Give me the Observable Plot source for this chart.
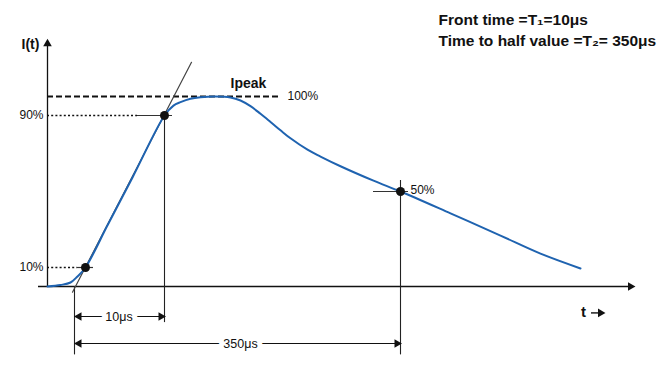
<!DOCTYPE html>
<html>
<head>
<meta charset="utf-8">
<script src="https://cdn.jsdelivr.net/npm/d3@7"></script>
<script src="https://cdn.jsdelivr.net/npm/@observablehq/plot@0.6"></script>
<style>
  html, body { margin: 0; padding: 0; background: #fff; }
  #chart svg { display: block; }
</style>
</head>
<body>
<div id="chart"></div>
<script>
// Schematic time units (t) and current level in % of peak
const curveT   = [0, 13, 23, 30, 38, 60, 85, 117, 126, 133, 143, 153, 168, 183, 193, 203, 213, 223, 233, 243, 260, 273, 293, 326, 353, 403, 453, 493, 533];
const curvePct = [0, 0.8, 2.1, 5.3, 10, 32.2, 57.4, 90, 95.2, 97.0, 98.8, 99.6, 100, 99.5, 97.9, 94.9, 90.9, 86.6, 82.2, 78.0, 72.0, 68.4, 63.3, 55.7, 50, 38.5, 26.8, 17.3, 9.5];

// marked points on the waveform
const markT     = [38, 117, 353];
const markPct   = [10, 90, 50];
const markLabel = ["10%", "90%", "50%"];

// front tangent (through 10% and 90% points), virtual origin
const tangentT   = [25, 144];
const tangentPct = [-3, 118];
const originT    = 27;

// peak
const peakPct   = 100;
const peakEndT  = 233;
const peakLabel = ["Ipeak", "100%"];

// dimension arrows
const dimLabel = ["10μs", "350μs"];
const dimEndT  = [117, 353];
const dimPct   = [-15.8, -30];
const dimLow   = -36;   // lower end of extension lines
const dimLowT1 = -19;   // lower end of extension line at T1

// axes
const axisXT   = [-9, 588];
const axisYPct = [0, 131];
const axisLabels = ["I(t)", "t"];

const titleLines = ["Front time =T\u2081=10μs", "Time to half value =T\u2082= 350μs"];

const curve = curveT.map((t, i) => ({t, p: curvePct[i]}));
const marks = markT.map((t, i) => ({t, p: markPct[i], label: markLabel[i]}));
const tangent = tangentT.map((t, i) => ({t, p: tangentPct[i]}));

const ink = "#111";
const font = "'Liberation Sans', Arial, sans-serif";

// arrowhead helper data
const heads = [
  {t: 0, p: axisYPct[1] - 3.2, rot: 0},                     // y axis up
  {t: axisXT[1] - 5, p: 0, rot: 90},                        // x axis right
  {t: originT + 4.5, p: dimPct[0], rot: -90},
  {t: dimEndT[0] - 3.5, p: dimPct[0], rot: 90},
  {t: originT + 4.5, p: dimPct[1], rot: -90},
  {t: dimEndT[1] - 3.5, p: dimPct[1], rot: 90},
  {t: 553, p: -13.9, rot: 90}                               // little arrow after "t"
];

const chart = Plot.plot({
  width: 668,
  height: 373,
  x: {domain: [0, 588], range: [47, 635], axis: null},
  y: {domain: [0, 100], range: [286, 96], axis: null},
  style: {fontFamily: font, background: "white"},
  marks: [
    // axes
    Plot.ruleY([0], {x1: axisXT[0], x2: axisXT[1] - 6, stroke: ink, strokeWidth: 1.3}),
    Plot.ruleX([0], {y1: axisYPct[0], y2: axisYPct[1] - 4, stroke: ink, strokeWidth: 1.3}),

    // dotted level lines at 10% and 90%
    Plot.ruleY(marks.filter(d => d.p !== 50), {y: "p", x1: 0, x2: d => d.t - (d.p === 90 ? 27 : 8), stroke: ink, strokeWidth: 1.6, strokeDasharray: "2,2.2"}),
    // short solid ticks through the points
    Plot.ruleY(marks, {y: "p", x1: d => d.p === 10 ? d.t - 8 : d.t - 27, x2: d => d.t + 8, stroke: "#333", strokeWidth: 1.2}),

    // dashed peak line
    Plot.ruleY([peakPct], {x1: 0, x2: peakEndT, stroke: ink, strokeWidth: 2, strokeDasharray: "6,3"}),

    // extension lines
    Plot.ruleX([originT], {y1: 0, y2: dimLow, stroke: "#222", strokeWidth: 1.1}),
    Plot.ruleX([dimEndT[0]], {y1: 90, y2: dimLowT1, stroke: "#222", strokeWidth: 1.1}),
    Plot.ruleX([dimEndT[1]], {y1: 55.8, y2: dimLow, stroke: "#222", strokeWidth: 1.1}),

    // tangent
    Plot.line(tangent, {x: "t", y: "p", stroke: "#444", strokeWidth: 1.2}),

    // waveform
    Plot.line(curve, {x: "t", y: "p", stroke: "#1f63b0", strokeWidth: 2, curve: "catmull-rom"}),

    // marked points
    Plot.dot(marks, {x: "t", y: "p", r: 4.5, fill: ink, stroke: null}),

    // dimension lines
    Plot.ruleY(dimPct, {y: d => d, x1: originT + 2, x2: (d, i) => dimEndT[i] - 2, stroke: ink, strokeWidth: 1.2}),
    Plot.text(dimLabel, {x: (d, i) => i === 0 ? 71.5 : 193, y: (d, i) => dimPct[i], text: d => d, fontSize: 12.5, fill: ink, stroke: "white", strokeWidth: 10, lineAnchor: "middle"}),

    // little arrow after t
    Plot.ruleY([-13.9], {x1: 544, x2: 551, stroke: ink, strokeWidth: 1.4}),

    // arrowheads
    Plot.dot(heads, {x: "t", y: "p", symbol: "triangle", r: 3.2, fill: ink, stroke: null, rotate: "rot"}),

    // level labels
    Plot.text(marks.filter(d => d.p !== 50), {x: 0, y: "p", text: "label", textAnchor: "end", dx: -4, fontSize: 12, fill: ink, lineAnchor: "middle"}),
    Plot.text(marks.filter(d => d.p === 50), {x: "t", y: "p", text: "label", textAnchor: "start", dx: 10, dy: -1, fontSize: 12, fill: ink, lineAnchor: "middle"}),
    Plot.text([peakLabel[1]], {x: 240, y: peakPct, text: d => d, textAnchor: "start", fontSize: 12, fill: ink, lineAnchor: "middle"}),
    Plot.text([peakLabel[0]], {x: 201, y: 106.8, text: d => d, fontSize: 14, fontWeight: "bold", fill: ink, lineAnchor: "middle"}),

    // axis labels
    Plot.text([axisLabels[0]], {x: -17, y: 127.2, text: d => d, fontSize: 14, fontWeight: "bold", fill: ink, lineAnchor: "middle"}),
    Plot.text([axisLabels[1]], {x: 536, y: -13.7, text: d => d, fontSize: 15, fontWeight: "bold", fill: ink, lineAnchor: "middle"}),

    // title block
    Plot.text(titleLines, {x: 391, y: (d, i) => i === 0 ? 140.5 : 129, text: d => d, textAnchor: "start", fontSize: 15.5, fontWeight: "bold", fill: ink, lineAnchor: "middle"})
  ]
});
document.getElementById("chart").appendChild(chart);
</script>
</body>
</html>
